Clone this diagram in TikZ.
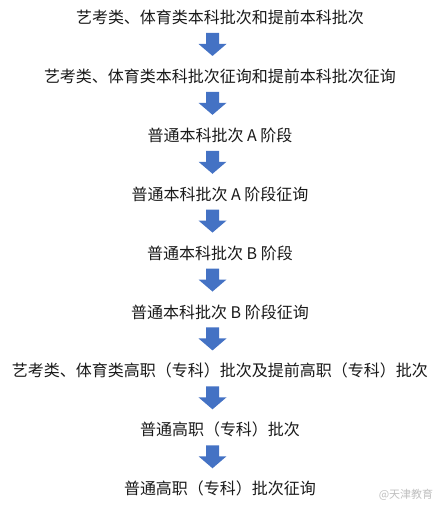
\documentclass[tikz,border=0pt]{standalone}
\usepackage{fontspec}
\setmainfont{Noto Sans CJK SC}
\usetikzlibrary{calc}
\definecolor{arrowblue}{HTML}{4472C4}
\tikzset{
  stage/.style={inner sep=0pt, font=\fontsize{16}{16}\selectfont, text=black!90, anchor=center},
  mark wm/.style={inner sep=0pt, font=\fontsize{11}{11}\selectfont, text=black!25, anchor=center},
  blockarrow/.style={fill=arrowblue, draw=none}
}
\newcommand{\barrow}[1]{%
  \fill[blockarrow, shift={(#1)}] (-6.5,-11.5) -- (6.5,-11.5) -- (6.5,-0.5) -- (14,-0.5) -- (0,11.5) -- (-14,-0.5) -- (-6.5,-0.5) -- cycle;}
\begin{document}
\begin{tikzpicture}[x=1pt,y=-1pt]
\useasboundingbox (0,0) rectangle (440,507);
\node[stage] (s1) at (220,17.5) {艺考类、体育类本科批次和提前本科批次};
\node[stage] (s2) at (220,76.4) {艺考类、体育类本科批次征询和提前本科批次征询};
\node[stage] (s3) at (220,135.3) {普通本科批次 A 阶段};
\node[stage] (s4) at (220,194.2) {普通本科批次 A 阶段征询};
\node[stage] (s5) at (220,253) {普通本科批次 B 阶段};
\node[stage] (s6) at (220,312) {普通本科批次 B 阶段征询};
\node[stage] (s7) at (220,370.9) {艺考类、体育类高职（专科）批次及提前高职（专科）批次};
\node[stage] (s8) at (220,429.8) {普通高职（专科）批次};
\node[stage] (s9) at (220,488.7) {普通高职（专科）批次征询};
\foreach \a/\b in {s1/s2,s2/s3,s3/s4,s4/s5,s5/s6,s6/s7,s7/s8,s8/s9}{
  \coordinate (m) at ($(\a)!0.5!(\b)+(-7.5,-2.5)$);
  \barrow{m}
}
\node[mark wm] (wm) at (406,495) {@天津教育};
\end{tikzpicture}
\end{document}
